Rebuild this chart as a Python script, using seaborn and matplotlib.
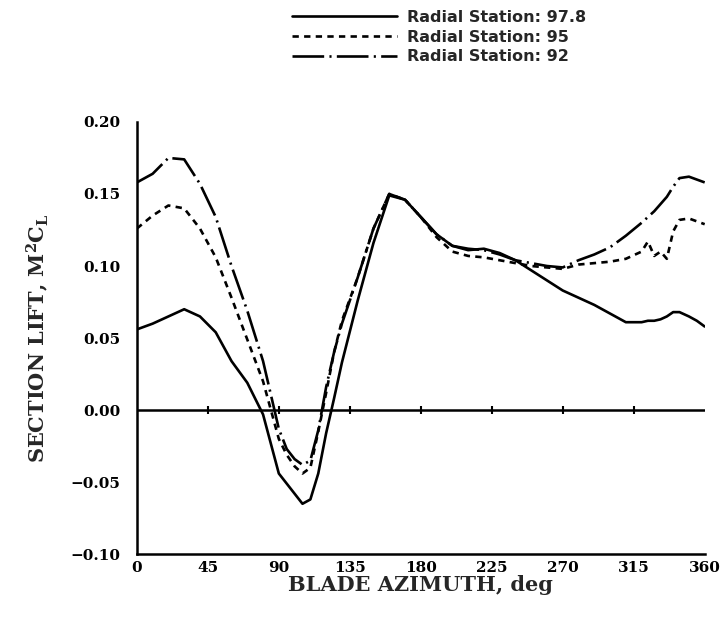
import matplotlib
matplotlib.use("Agg")
import matplotlib.pyplot as plt
import seaborn as sns
import pandas as pd

# Azimut de la pala (grados) y sustentación de sección M^2 C_L por estación radial
azimut = [0, 10, 20, 30, 40, 50, 60, 70, 80, 90, 95, 100, 105, 110, 115, 120, 125, 130,
          140, 150, 160, 170, 180, 190, 200, 210, 220, 230, 240, 250, 260, 270, 280, 290,
          300, 310, 320, 324, 328, 332, 336, 340, 344, 350, 355, 360]

lift_978 = [0.056, 0.060, 0.065, 0.070, 0.065, 0.054, 0.034, 0.019, -0.003, -0.044, -0.051,
            -0.058, -0.065, -0.062, -0.044, -0.016, 0.008, 0.033, 0.076, 0.116, 0.149, 0.146,
            0.134, 0.122, 0.114, 0.111, 0.112, 0.109, 0.104, 0.097, 0.090, 0.083, 0.078, 0.073,
            0.067, 0.061, 0.061, 0.062, 0.062, 0.063, 0.065, 0.068, 0.068, 0.065, 0.062, 0.058]

lift_95 = [0.126, 0.135, 0.142, 0.140, 0.126, 0.106, 0.078, 0.049, 0.020, -0.020, -0.031,
           -0.039, -0.044, -0.040, -0.015, 0.012, 0.040, 0.062, 0.092, 0.126, 0.150, 0.146,
           0.134, 0.120, 0.110, 0.107, 0.106, 0.104, 0.102, 0.100, 0.099, 0.098, 0.101, 0.102,
           0.103, 0.105, 0.110, 0.117, 0.107, 0.110, 0.105, 0.124, 0.132, 0.133, 0.131, 0.129]

lift_92 = [0.158, 0.164, 0.175, 0.174, 0.157, 0.134, 0.100, 0.069, 0.034, -0.013, -0.027,
           -0.034, -0.038, -0.035, -0.014, 0.016, 0.040, 0.060, 0.092, 0.126, 0.150, 0.146,
           0.134, 0.122, 0.114, 0.112, 0.111, 0.108, 0.104, 0.102, 0.100, 0.099, 0.104, 0.108,
           0.113, 0.121, 0.130, 0.134, 0.138, 0.143, 0.148, 0.155, 0.161, 0.162, 0.160, 0.158]

estaciones = ['Radial Station: 97.8', 'Radial Station: 95', 'Radial Station: 92']
xticks = [0, 45, 90, 135, 180, 225, 270, 315, 360]
yticks = [-0.10, -0.05, 0.00, 0.05, 0.10, 0.15, 0.20]

df = pd.concat([
    pd.DataFrame({'azimut': azimut, 'lift': lift_978, 'estacion': estaciones[0]}),
    pd.DataFrame({'azimut': azimut, 'lift': lift_95, 'estacion': estaciones[1]}),
    pd.DataFrame({'azimut': azimut, 'lift': lift_92, 'estacion': estaciones[2]}),
], ignore_index=True)

sns.set_style('white')
plt.rcParams['font.family'] = ['DejaVu Serif']
plt.rcParams['mathtext.fontset'] = 'dejavuserif'
plt.rcParams['mathtext.default'] = 'bf'

fig = plt.figure(figsize=(7.28, 6.22), dpi=100)
ax = fig.add_axes([0.188, 0.109, 0.780, 0.695])

estilos = {estaciones[0]: '', estaciones[1]: (2.4, 2.0), estaciones[2]: (12, 2, 0.8, 2)}
sns.lineplot(data=df, x='azimut', y='lift', style='estacion', style_order=estaciones,
             dashes=estilos, color='black', linewidth=1.9, estimator=None, sort=False,
             ax=ax, legend=True)

# línea de cero con sus marcas
ax.axhline(0, color='black', linewidth=1.8, zorder=1)
ax.plot(xticks[1:-1], [0] * (len(xticks) - 2), linestyle='none', marker='|',
        markersize=6, markeredgewidth=1.5, color='black')

ax.set_xlim(0, 360)
ax.set_ylim(-0.10, 0.20)
ax.set_xticks(xticks)
ax.set_yticks(yticks)
ax.set_xticklabels([str(t) for t in xticks])
ax.set_yticklabels([f'{t:.2f}'.replace('-', '\u2212') for t in yticks])
for s in ['top', 'right']:
    ax.spines[s].set_visible(False)
for s in ['left', 'bottom']:
    ax.spines[s].set_linewidth(1.8)
    ax.spines[s].set_color('black')
ax.tick_params(axis='both', direction='in', length=6, width=1.5, colors='black',
               labelsize=11)
ax.tick_params(axis='y', pad=12)
ax.tick_params(axis='x', pad=5)
for lab in ax.get_xticklabels() + ax.get_yticklabels():
    lab.set_fontweight('bold')

ax.set_xlabel('BLADE AZIMUTH, deg', fontsize=15, fontweight='bold', labelpad=0)
ax.set_ylabel(r'SECTION LIFT, M$^2$C$_L$', fontsize=15, fontweight='bold', labelpad=14)

handles, labels = ax.get_legend_handles_labels()
ax.get_legend().remove()
fig.legend(handles, labels, loc='upper left', bbox_to_anchor=(0.39, 0.997),
           frameon=False, handlelength=6.6, handletextpad=0.6, labelspacing=0.3,
           borderpad=0, prop={'family': 'DejaVu Sans', 'weight': 'bold', 'size': 11.5})

fig.savefig('out.png', dpi=100)
